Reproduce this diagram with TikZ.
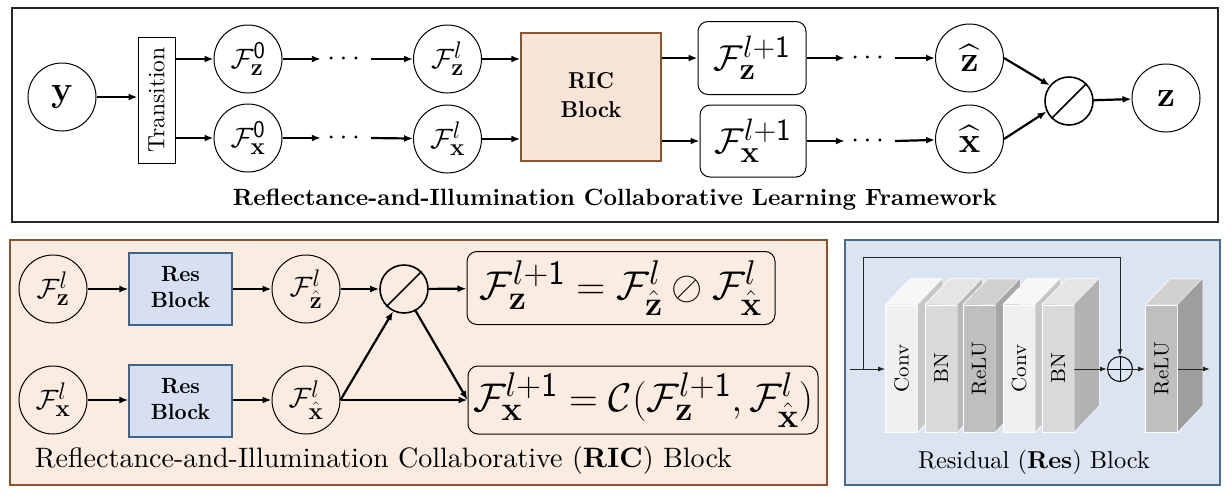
\RequirePackage{fix-cm}
\documentclass[tikz,border=0pt]{standalone}
\usepackage{amsmath,amssymb}
\usepackage{graphicx}
\usetikzlibrary{arrows.meta,calc}
\definecolor{peach}{HTML}{FBECE2}
\definecolor{peachbox}{HTML}{F9E5D8}
\definecolor{brownb}{HTML}{8C5330}
\definecolor{panelblue}{HTML}{DCE4F2}
\definecolor{resblue}{HTML}{D6E0F2}
\definecolor{bluebord}{HTML}{4A6A8E}
\definecolor{resbord}{HTML}{41648C}
\DeclareMathSizes{28}{28}{24}{19}
\DeclareMathSizes{36}{36}{31}{24}
\newcommand\bigf[1]{\fontsize{#1}{#1}\selectfont}
\newcommand\layerblk[6]{%
  \node[lay, fill=#4] (#1) at (#2,368.5) {\rotatebox{90}{\scalebox{2.1}[2.05]{#3}}};
  \fill[#6] (#1.north west) -- ++(25,-26) -- ++(32,0) -- (#1.north east) -- cycle;
  \draw[white, line width=0.6pt] (#1.north west) -- ++(25,-26) -- ++(32,0) -- (#1.north east);
  \fill[#5] (#1.north east) -- ++(25,-26) -- ++(0,127) -- (#1.south east) -- cycle;
  \draw[white, line width=0.6pt] (#1.north east) ++(25,-26) -- ++(0,127) -- (#1.south east);
}
\begin{document}
\begin{tikzpicture}[x=1pt,y=-1pt,
  circ/.style={circle, draw, line width=1pt, minimum size=68pt, inner sep=0pt, font=\bigf{28}},
  bigl/.style={font=\bigf{36}},
  arr/.style={-{Latex[length=9pt,width=7pt]}, line width=2.2pt},
  rarr/.style={-{Latex[length=7pt,width=5pt]}, line width=1pt, draw=black!85},
  rbox/.style={draw, rounded corners=10pt, line width=1pt, inner sep=0pt},
  dotsn/.style={inner sep=0pt, minimum width=50pt, font=\bigf{28}},
  divn/.style={circle, draw, line width=1.6pt, minimum size=48pt, inner sep=0pt},
  resb/.style={draw=resbord, fill=resblue, line width=1.2pt, minimum width=103pt, minimum height=72pt, inner sep=0pt},
  lay/.style={draw=white, line width=0.6pt, minimum width=32pt, minimum height=127pt, inner sep=0pt},
]
\useasboundingbox (0,0) rectangle (1232,493);
\fill[white] (0,0) rectangle (1232,493);
% ---------------- top panel ----------------
\draw[line width=1.8pt, draw=black!85] (12,8) rectangle (1218,222);
\node[circ, bigl] (y) at (62,97) {$\mathbf{y}$};
\node[draw, line width=1pt, minimum width=37pt, minimum height=126pt, inner sep=0pt] (trans) at (156.5,100) {\rotatebox{90}{\scalebox{2.35}{Transition}}};
\node[circ] (fz0) at (248,59) {$\mathcal{F}_{\mathbf{z}}^{\mathsf{0}}$};
\node[circ] (fx0) at (248,138) {$\mathcal{F}_{\mathbf{x}}^{\mathsf{0}}$};
\node[dotsn] (d1) at (346,59) {$\cdots$};
\node[dotsn] (d2) at (346,138) {$\cdots$};
\node[circ] (fzl) at (447.5,59) {$\mathcal{F}_{\mathbf{z}}^{l}$};
\node[circ] (fxl) at (447.5,139) {$\mathcal{F}_{\mathbf{x}}^{l}$};
\node[draw=brownb, fill=peachbox, line width=1.4pt, minimum width=140pt, minimum height=128pt, inner sep=0pt] (ric) at (591,97) {\scalebox{2.15}[2.3]{\bfseries\begin{tabular}{@{}c@{}}RIC\\[0.6pt]Block\end{tabular}}};
\node[rbox, minimum width=108pt, minimum height=73pt, font=\bigf{36}] (fzl1) at (752,58) {$\mathcal{F}_{\mathbf{z}}^{l+\mathsf{1}}$};
\node[rbox, minimum width=106pt, minimum height=72pt, font=\bigf{36}] (fxl1) at (753,141) {$\mathcal{F}_{\mathbf{x}}^{l+\mathsf{1}}$};
\node[dotsn] (d3) at (870,58) {$\cdots$};
\node[dotsn] (d4) at (870,141) {$\cdots$};
\node[circ, bigl] (zh) at (969.5,58) {$\widehat{\mathbf{z}}$};
\node[circ, bigl] (xh) at (969.5,139) {$\widehat{\mathbf{x}}$};
\node[divn] (dv) at (1069,101) {};
\draw[line width=1.6pt] (dv.225) -- (dv.45);
\node[circ, bigl] (zo) at (1166,98) {$\mathbf{z}$};
\draw[arr] (y) -- (y -| trans.west);
\draw[arr] (trans.east |- fz0) -- (fz0);
\draw[arr] (trans.east |- fx0) -- (fx0);
\draw[arr] (fz0) -- (d1.west);
\draw[arr] (fx0) -- (d2.west);
\draw[arr] (d1.east) -- (fzl);
\draw[arr] (d2.east) -- (fxl);
\draw[arr] (fzl) -- (ric.west |- fzl);
\draw[arr] (fxl) -- (ric.west |- fxl);
\draw[arr] (ric.east |- fzl1) -- (fzl1);
\draw[arr] (ric.east |- fxl1) -- (fxl1);
\draw[arr] (fzl1) -- (d3.west);
\draw[arr] (fxl1) -- (d4.west);
\draw[arr] (d3.east) -- (zh);
\draw[arr] (d4.east) -- (xh);
\draw[arr] (zh.east) -- (dv.141);
\draw[arr] (xh.east) -- (dv.205);
\draw[arr] (dv) -- (zo);
\node (t1) at (615,200) {\resizebox{764pt}{!}{\bfseries Reflectance-and-Illumination Collaborative Learning Framework}};
% ---------------- bottom left panel ----------------
\draw[draw=brownb, fill=peach, line width=1.5pt] (10,240) rectangle (827,485);
\node[circ] (bfz) at (53,289) {$\mathcal{F}_{\mathbf{z}}^{l}$};
\node[circ] (bfx) at (53,400) {$\mathcal{F}_{\mathbf{x}}^{l}$};
\node[resb] (res1) at (180.5,289) {\scalebox{2.1}[2.2]{\bfseries\begin{tabular}{@{}c@{}}Res\\[0pt]Block\end{tabular}}};
\node[resb] (res2) at (180.5,401) {\scalebox{2.1}[2.2]{\bfseries\begin{tabular}{@{}c@{}}Res\\[0pt]Block\end{tabular}}};
\node[circ] (bfzh) at (306,289) {$\mathcal{F}_{\hat{\mathbf{z}}}^{l}$};
\node[circ] (bfxh) at (306,400) {$\mathcal{F}_{\hat{\mathbf{x}}}^{l}$};
\node[divn] (bdv) at (404,289) {};
\draw[line width=1.6pt] (bdv.225) -- (bdv.45);
\node[rbox, minimum width=308pt, minimum height=73pt, font=\bigf{28}] (eq1) at (621,288) {\resizebox{282pt}{!}{$\mathcal{F}_{\mathbf{z}}^{l+\mathsf{1}} = \mathcal{F}_{\hat{\mathbf{z}}}^{l} \oslash \mathcal{F}_{\hat{\mathbf{x}}}^{l}$}};
\node[rbox, minimum width=350pt, minimum height=68pt, font=\bigf{28}] (eq2) at (643,400) {\resizebox{340pt}{!}{$\mathcal{F}_{\mathbf{x}}^{l+\mathsf{1}} = \mathcal{C}(\mathcal{F}_{\mathbf{z}}^{l+\mathsf{1}}, \mathcal{F}_{\hat{\mathbf{x}}}^{l})$}};
\draw[arr] (bfz) -- (res1);
\draw[arr] (bfx) -- (res2.west |- bfx);
\draw[arr] (res1) -- (bfzh);
\draw[arr] (res2.east |- bfxh) -- (bfxh);
\draw[arr] (bfzh) -- (bdv);
\draw[arr] (bdv) -- (eq1);
\draw[arr] (bfxh.east) -- (eq2.west |- bfxh);
\draw[arr] (bfxh.east) -- (bdv.244);
\draw[arr] (bdv.298) -- (eq2.west);
\node (t2) at (383.5,460) {\resizebox{697pt}{!}{Reflectance-and-Illumination Collaborative (\textbf{RIC}) Block}};
% ---------------- bottom right panel ----------------
\draw[draw=bluebord, fill=panelblue, line width=1.5pt] (845,240) rectangle (1220,485);
\layerblk{c1}{901.5}{Conv}{black!6}{black!22}{black!3}
\layerblk{b1}{941}{BN}{black!15}{black!28}{black!10}
\layerblk{r1}{979}{ReLU}{black!25}{black!35}{black!18}
\layerblk{c2}{1019}{Conv}{black!6}{black!22}{black!3}
\layerblk{b2}{1058}{BN}{black!15}{black!30}{black!10}
\layerblk{r2}{1161.5}{ReLU}{black!25}{black!38}{black!18}
\node[circle, draw, line width=1pt, minimum size=25pt, inner sep=0pt] (op) at (1120,369) {};
\draw[line width=1pt] (op.north) -- (op.south) (op.west) -- (op.east);
\coordinate (rin) at (850,369);
\coordinate (sk) at (863,369);
\coordinate (sktop) at (863,257);
\coordinate (rout) at (1210,369);
\draw[rarr] (rin) -- (c1.west |- rin);
\draw[rarr] (sk) -- (sktop) -| (op.north);
\draw[rarr] (b2.east |- op) -- (op.west);
\draw[rarr] (op.east) -- (r2.west |- op);
\draw[rarr] (r2.east |- op) -- (rout);
\node (t3) at (1034,462) {\resizebox{232pt}{!}{Residual (\textbf{Res}) Block}};
\end{tikzpicture}
\end{document}
